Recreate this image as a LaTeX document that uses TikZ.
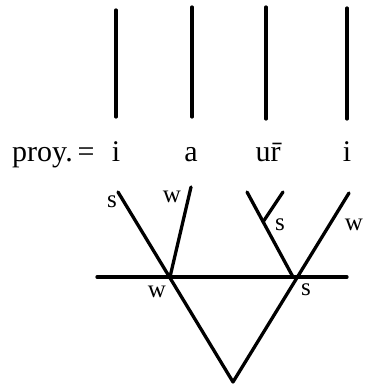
\documentclass[tikz,border=0pt]{standalone}
\usepackage{fontspec}
\setmainfont{Liberation Serif}
\usepackage{tikz}
\usetikzlibrary{positioning}

\tikzset{
  bar/.style={line width=3.2pt, line cap=round},
  limb/.style={line width=3.3pt, line cap=round, line join=round},
  lab/.style={inner sep=0pt, font=\fontsize{25}{29}\selectfont},
  seg/.style={inner sep=0pt, anchor=base, font=\fontsize{30}{34}\selectfont}
}

\begin{document}
\begin{tikzpicture}[x=1pt, y=-1pt]
		\useasboundingbox (0,0) rectangle (365,385);
		% lineas verticales
		\foreach \n/\x/\t/\b in {1/116/10/117, 2/192/7/117, 3/266/7/119, 4/347/8/119} {
			\coordinate (t\n) at (\x,\t);
			\coordinate (b\n) at (\x,\b);
			\draw[bar] (t\n) -- (b\n);
		}
		
		% proyeccion
		\node[seg, anchor=base west] (proy) at (12,161) {proy.\,=};
		\node[seg] (i1) at (116,161) {i};
		\node[seg] (a) at (191,161) {a};
		\node[seg] (ur) at (268,161) {u\=r};
		\node[seg] (i2) at (347,161) {i};
		
		% arbol
		\coordinate (apex) at (233,382);
		\coordinate (ls) at (118,192);
		\coordinate (lw) at (170,277);
		\coordinate (lwtop) at (191,187);
		\coordinate (rs) at (293,277);
		\coordinate (rstop) at (247,192);
		\coordinate (rsmid) at (263,222);
		\coordinate (rstop2) at (283,192);
		\coordinate (rw) at (349,193);
		\coordinate (hl) at (97,277);
		\coordinate (hr) at (347,277);
		
		\draw[limb] (hl) -- (hr);
		\draw[limb] (ls) -- (apex) -- (rw);
		\draw[limb] (lw) -- (lwtop);
		\draw[limb] (rs) -- (rstop);
		\draw[limb] (rsmid) -- (rstop2);
		
		\node[lab] (sa) at (112,202) {s};
		\node[lab] (wa) at (172,197) {w};
		\node[lab] (sb) at (280,225) {s};
		\node[lab] (wb) at (354,225) {w};
		\node[lab] (wc) at (157,292) {w};
		\node[lab] (sc) at (306,290) {s};
	\end{tikzpicture}
\end{document}
